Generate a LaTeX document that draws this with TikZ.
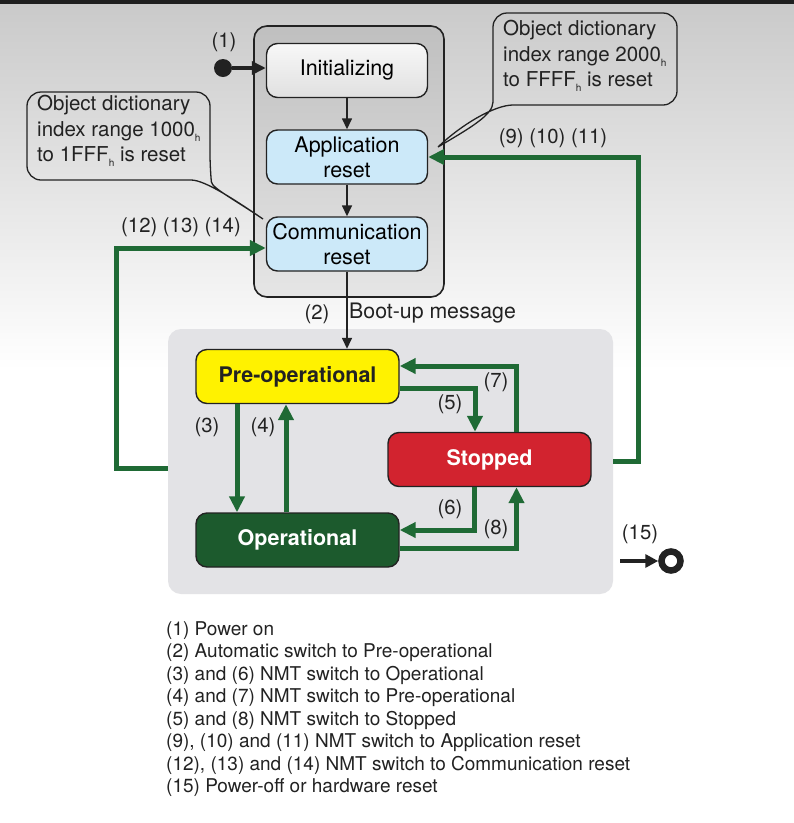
\documentclass[tikz,border=0pt]{standalone}
\usepackage{fontspec}
\setmainfont{TeX Gyre Heros}
\usetikzlibrary{arrows.meta}
\definecolor{nmtgreen}{HTML}{1F6A35}
\definecolor{opfill}{HTML}{1C5A2D}
\definecolor{stopfill}{HTML}{D2232F}
\definecolor{prefill}{HTML}{FFF200}
\definecolor{resetblue}{HTML}{CCE9F9}
\definecolor{opsgray}{HTML}{E3E3E6}
\definecolor{ink}{HTML}{222222}
\newcommand{\subh}{\raisebox{-0.45ex}{\fontsize{10}{10}\selectfont h}}
\begin{document}
\begin{tikzpicture}[x=1pt,y=-1pt,
  stbox/.style={draw=ink, line width=1.4pt, rounded corners=11pt, minimum width=161pt, minimum height=54pt,
    font=\fontsize{21.5}{25}\selectfont, align=center, inner sep=0pt},
  opbox/.style={draw=ink, line width=1.4pt, rounded corners=11pt, minimum width=203pt, minimum height=54pt,
    font=\fontsize{21.5}{25}\selectfont\bfseries, align=center, inner sep=0pt},
  nmt/.style={draw=nmtgreen, line width=5pt, -{Triangle[length=16pt,width=15pt]}},
  blk/.style={draw=ink, line width=1.5pt, -{Triangle[length=11pt,width=10pt]}},
  lbl/.style={font=\fontsize{20.3}{24}\selectfont, text=ink, inner sep=0pt},
  callout/.style={draw=ink, line width=1.3pt},
  calltext/.style={font=\fontsize{20.5}{25.5}\selectfont, text=ink, align=left, inner sep=0pt, anchor=west}
]
\useasboundingbox (0,0) rectangle (794,823);
% background
\shade[top color=black!21, bottom color=white] (0,0) rectangle (794,370);
\fill[white] (0,370) rectangle (794,823);
\fill[black!88] (0,0) rectangle (794,4);

% groups
\node[draw=ink, line width=1.6pt, rounded corners=13pt, minimum width=190pt, minimum height=271pt,
  top color=black!25, bottom color=black!10, inner sep=0pt] (initgrp) at (349,161.5) {};
\node[fill=opsgray, rounded corners=13pt, minimum width=445pt, minimum height=265pt, inner sep=0pt] (ops) at (390.5,461.5) {};

% upper states
\node[stbox, top color=black!3, bottom color=black!12] (init) at (347,70.5) {Initializing};
\node[stbox, fill=resetblue] (app) at (347,157) {Application\\reset};
\node[stbox, fill=resetblue] (comm) at (347,244) {Communication\\reset};

% lower states
\node[opbox, fill=prefill, text=ink] (pre) at (297.5,376.5) {Pre-operational};
\node[opbox, fill=stopfill, text=white] (stop) at (489.5,459.5) {Stopped};
\node[opbox, fill=opfill, text=white] (op) at (297.5,540) {Operational};

% start
\node[circle, fill=ink, minimum size=18pt, inner sep=0pt] (start) at (223,68) {};
\node[lbl] (l1) at (224,42) {(1)};
\draw[draw=ink, line width=4pt, -{Triangle[length=14pt,width=13pt]}] (start.east) -- (start.east -| init.west);

% black arrows
\draw[blk] (init) -- (app);
\draw[blk] (app) -- (comm);
\draw[blk] (comm.south) -- (comm.south |- pre.north);
\node[lbl] (l2) at (317,314) {(2)};
\node[lbl, anchor=west, font=\fontsize{21.3}{24}\selectfont] (boot) at (349,313) {Boot-up message};

% NMT transitions
\draw[nmt] ([xshift=-60.5pt]pre.south) -- ([xshift=-60.5pt]op.north);
\draw[nmt] ([xshift=-11.5pt]op.north) -- ([xshift=-11.5pt]pre.south);
\draw[nmt] ([yshift=-11.5pt]pre.east) -| ([xshift=-14.5pt]stop.north);
\draw[nmt] ([xshift=27pt]stop.north) |- ([yshift=10.5pt]pre.east);
\draw[nmt] ([xshift=-15.5pt]stop.south) |- ([yshift=10pt]op.east);
\draw[nmt] ([yshift=-8pt]op.east) -| ([xshift=27pt]stop.south);
\draw[nmt] (ops.east) -- ++(25,0) |- (app.east);
\draw[nmt] ([yshift=-6.5pt]ops.west) -- ++(-51,0) |- ([yshift=-4pt]comm.west);

\node[lbl] (l3) at (207,427) {(3)};
\node[lbl] (l4) at (263,427) {(4)};
\node[lbl] (l5) at (450,404) {(5)};
\node[lbl] (l7) at (496,382) {(7)};
\node[lbl] (l6) at (450,509) {(6)};
\node[lbl] (l8) at (496,529) {(8)};
\node[lbl] (l911) at (553,138) {(9) (10) (11)};
\node[lbl] (l1214) at (181,227) {(12) (13) (14)};

% power off
\node[circle, draw=ink, line width=6.5pt, minimum size=19pt, inner sep=0pt] (off) at (671,561) {};
\coordinate (offin) at (620,561);
\draw[draw=ink, line width=4pt, -{Triangle[length=13pt,width=13pt]}] (offin) -- (off.west);
\node[lbl] (l15) at (640,534) {(15)};

% callouts
\coordinate (tipL) at (263,219);
\coordinate (tipR) at (438,147);
\draw[callout, rounded corners=14pt] (tipL) .. controls (235,200) and (205,180) .. (177,180) -- (27,180) -- (27,92) -- (210,92) -- (210,168)
  {[sharp corners] .. controls (212,188) and (235,200) .. (tipL)};
\draw[callout, rounded corners=14pt] (tipR) .. controls (470,128) and (493,115) .. (493,88) -- (493,13) -- (677,13) -- (677,105) -- (527,105)
  {[sharp corners] .. controls (495,105) and (462,124) .. (tipR)};
\node[calltext] (cL) at (37,131) {Object dictionary\\index range 1000\subh\\to 1FFF\subh\ is reset};
\node[calltext] (cR) at (503,56) {Object dictionary\\index range 2000\subh\\to FFFF\subh\ is reset};

% legend
\node[anchor=north west, align=left, inner sep=0pt, font=\fontsize{19}{22.5}\selectfont, text=ink] (legend) at (166,621)
{(1) Power on\\
(2) Automatic switch to Pre-operational\\
(3) and (6) NMT switch to Operational\\
(4) and (7) NMT switch to Pre-operational\\
(5) and (8) NMT switch to Stopped\\
(9), (10) and (11) NMT switch to Application reset\\
(12), (13) and (14) NMT switch to Communication reset\\
(15) Power-off or hardware reset};
\end{tikzpicture}
\end{document}
